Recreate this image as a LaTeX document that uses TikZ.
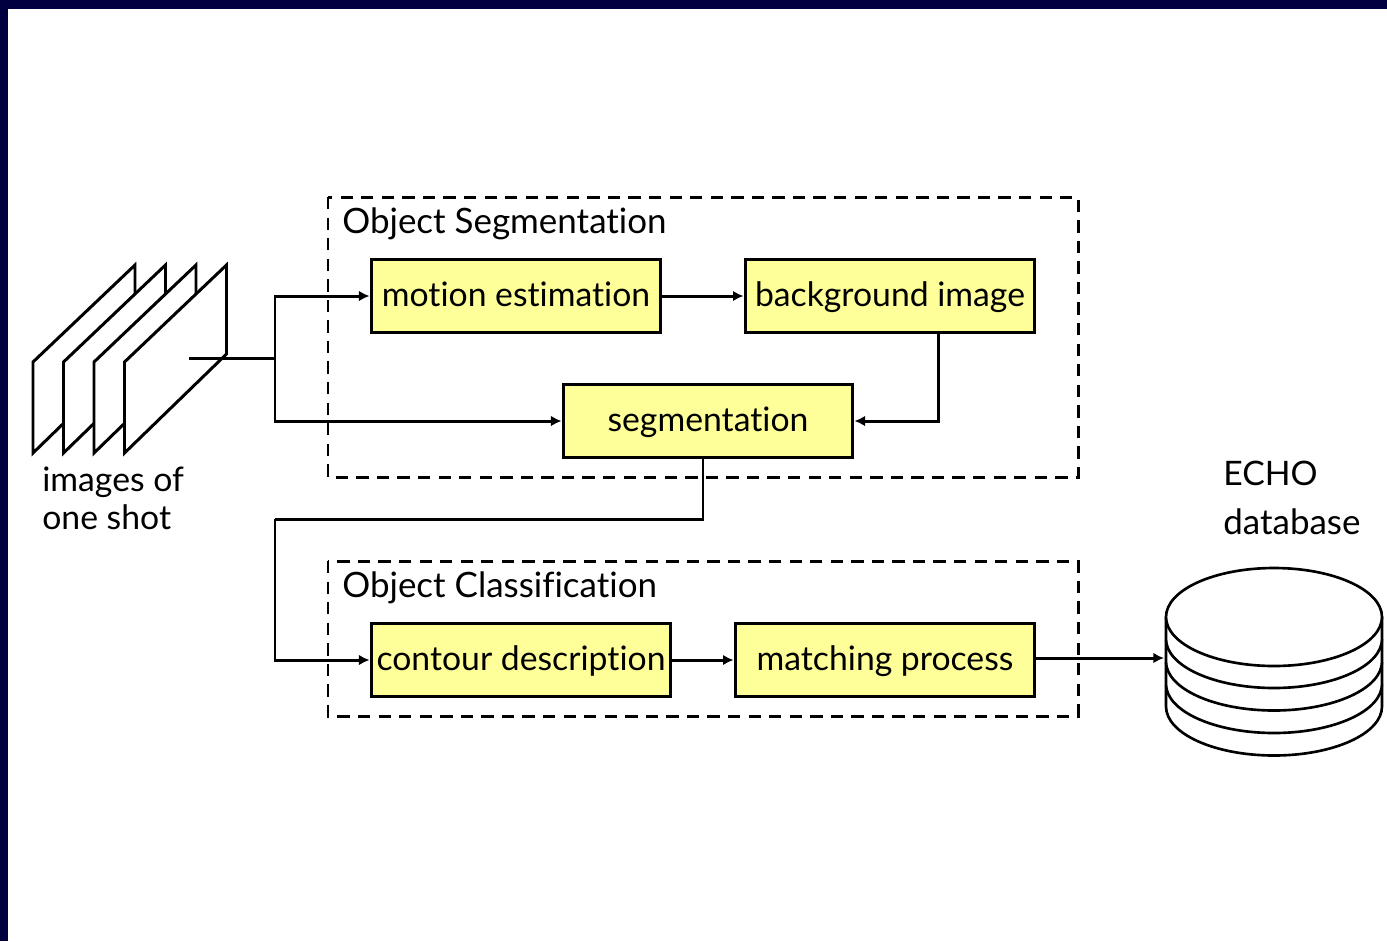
\documentclass[tikz,border=0pt]{standalone}
\usepackage{fontspec}
\setmainfont[Ligatures=NoCommon]{Lato}
\usetikzlibrary{calc, positioning, arrows.meta}
\definecolor{framenavy}{RGB}{0,0,64}
\definecolor{boxyellow}{RGB}{255,255,153}
\tikzset{
	procbox/.style={draw, line width=1.7pt, fill=boxyellow, minimum width=5.8cm, minimum height=1.46cm, inner sep=0pt, text height=0.5cm, text depth=0.1cm, font=\fontsize{19.2}{19}\selectfont},
	groupbox/.style={draw, line width=1.7pt, dash pattern=on 7pt off 4.7pt},
	flow/.style={line width=1.7pt, -{Latex[length=6pt,width=6pt]}},
	wire/.style={line width=1.7pt},
	lbl/.style={inner sep=0pt, anchor=base west, font=\fontsize{19.2}{19}\selectfont},
	titlelbl/.style={lbl, font=\fontsize{19.9}{20}\selectfont},
	sheet/.style={draw, line width=1.7pt, fill=white},
	disc/.style={draw, line width=1.5pt, fill=white}
}
\begin{document}
\begin{tikzpicture}[x=0.02cm, y=-0.02cm]
		\useasboundingbox (0,0) rectangle (1387,941);
		% frame %
		\fill[framenavy] (0,0) rectangle (1387,9);
		\fill[framenavy] (0,0) rectangle (8,941);

		% groups %
		\draw[groupbox] (328,197) rectangle (1078,477);
		\draw[groupbox] (328,561) rectangle (1078,716);
		\node[titlelbl] (segtitle) at (342,233) {Object Segmentation};
		\node[titlelbl] (clstitle) at (342,597) {Object Classification};

		% nodes %
		\node[procbox] (motion) at (516,296) {motion estimation};
		\node[procbox] (backg) at (890,296) {background image};
		\node[procbox] (seg) at (708,421) {segmentation};
		\node[procbox, minimum width=6cm] (contour) at (521,660) {contour description};
		\node[procbox, minimum width=6cm] (match) at (885,660) {matching process};

		% image stack %
		\foreach \dx in {0,30.5,61,91.5} {
			\draw[sheet] (33+\dx,362) -- (135+\dx,265) -- (135+\dx,354) -- (33+\dx,453) -- cycle;
		}
		\coordinate (stackout) at (189,358);
		\coordinate (split) at (275,358);
		\node[lbl] (imgone) at (42,491) {images of};
		\node[lbl] (imgtwo) at (42,529) {one shot};

		% database %
		\foreach \dy in {67.5,45,22.5,0} {
			\draw[disc] (1166,617+\dy) -- (1166,617+\dy+22) arc[start angle=180, end angle=360, x radius=108, y radius=-49] -- (1382,617+\dy);
		}
		\draw[disc] (1274,617) ellipse[x radius=108, y radius=49];
		\node[lbl] (echoa) at (1223,485) {ECHO};
		\node[titlelbl] (echob) at (1223,534) {database};

		% connector ends %
		\coordinate (bgout) at (938,332);
		\coordinate (segout) at (703,457);
		\coordinate (turn) at (275,519);
		\coordinate (matchout) at (1036,658);
		\coordinate (dbin) at (1164,658);

		% edges %
		\draw[wire] (stackout) -- (split);
		\draw[flow] (split) |- (motion.west);
		\draw[flow] (split) |- (seg.west);
		\draw[flow] (motion) -- (backg);
		\draw[flow] (bgout) |- (seg.east);
		\draw[wire] (segout) |- (turn);
		\draw[flow] (turn) |- (contour.west);
		\draw[flow] (contour) -- (match);
		\draw[flow] (matchout) -- (dbin);
\end{tikzpicture}
\end{document}
